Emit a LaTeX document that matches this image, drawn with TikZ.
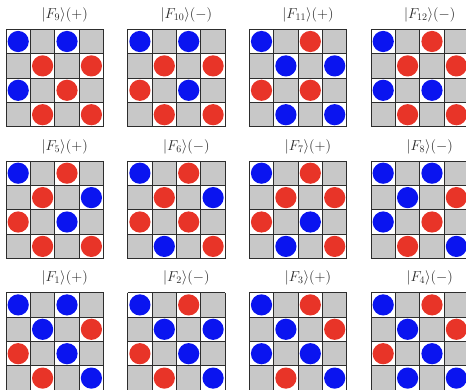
\documentclass[tikz,border=0pt]{standalone}
\usepackage{amsmath}
\definecolor{cellgray}{RGB}{200,200,200}
\definecolor{sitered}{RGB}{232,52,40}
\definecolor{siteblue}{RGB}{10,20,240}
\definecolor{gridline}{RGB}{45,45,45}
\definecolor{titlegray}{RGB}{40,40,40}
\tikzset{
  gridstroke/.style={draw=gridline, line width=0.9pt},
  titletext/.style={font=\fontsize{14}{16}\selectfont, text=titlegray, inner sep=0pt},
}
\def\cs{24.4}
% #1,#2: top-left corner; #3: name; #4: title; #5: colours of the 8 occupied (white) sites, row by row
\newcommand\plaquette[5]{%
  \begin{scope}[shift={(#1,#2)}]
    \foreach \r in {0,...,3} {
      \foreach \c in {0,...,3} {
        \pgfmathtruncatemacro\oddcell{mod(\r+\c,2)}
        \ifnum\oddcell=1
          \fill[cellgray] ({\c*\cs},{\r*\cs}) rectangle ++(\cs,\cs);
        \else
          \fill[white] ({\c*\cs},{\r*\cs}) rectangle ++(\cs,\cs);
        \fi
      }
    }
    \foreach \i in {0,...,4} {
      \draw[gridstroke] ({\i*\cs},0) -- ({\i*\cs},{4*\cs});
      \draw[gridstroke] (0,{\i*\cs}) -- ({4*\cs},{\i*\cs});
    }
    \foreach \col [count=\k from 0] in {#5} {
      \pgfmathtruncatemacro\rr{int(\k/2)}
      \pgfmathtruncatemacro\cc{2*mod(\k,2)+mod(\rr,2)}
      \fill[\col] ({(\cc+0.5)*\cs},{(\rr+0.5)*\cs}) circle[radius=10.6pt];
    }
    \node[titletext] (#3) at (58.7,-14.5) {#4};
  \end{scope}}
\begin{document}
\begin{tikzpicture}[x=1pt,y=-1pt]
  \useasboundingbox (0,0) rectangle (466,390);
  \clip (0,0) rectangle (466,390);
  \fill[white] (0,0) rectangle (466,390);
  % top row
  \plaquette{6}{29.3}{f9}{$|F_{9}\rangle(+)$}{siteblue,siteblue,sitered,sitered,siteblue,sitered,sitered,sitered}
  \plaquette{127.7}{29.3}{f10}{$|F_{10}\rangle(-)$}{siteblue,siteblue,sitered,sitered,sitered,siteblue,sitered,sitered}
  \plaquette{249.3}{29.3}{f11}{$|F_{11}\rangle(+)$}{siteblue,sitered,siteblue,siteblue,sitered,sitered,siteblue,siteblue}
  \plaquette{371}{29.3}{f12}{$|F_{12}\rangle(-)$}{siteblue,sitered,sitered,sitered,siteblue,siteblue,sitered,sitered}
  % middle row
  \plaquette{6}{161}{f5}{$|F_{5}\rangle(+)$}{siteblue,sitered,sitered,siteblue,sitered,siteblue,sitered,sitered}
  \plaquette{127.7}{161}{f6}{$|F_{6}\rangle(-)$}{siteblue,sitered,sitered,siteblue,sitered,sitered,siteblue,sitered}
  \plaquette{249.3}{161}{f7}{$|F_{7}\rangle(+)$}{siteblue,sitered,sitered,sitered,sitered,siteblue,siteblue,sitered}
  \plaquette{371}{161}{f8}{$|F_{8}\rangle(-)$}{siteblue,siteblue,siteblue,sitered,siteblue,sitered,sitered,siteblue}
  % bottom row
  \plaquette{6}{292.7}{f1}{$|F_{1}\rangle(+)$}{siteblue,siteblue,siteblue,sitered,sitered,siteblue,sitered,siteblue}
  \plaquette{127.7}{292.7}{f2}{$|F_{2}\rangle(-)$}{siteblue,sitered,siteblue,siteblue,sitered,siteblue,sitered,siteblue}
  \plaquette{249.3}{292.7}{f3}{$|F_{3}\rangle(+)$}{siteblue,sitered,siteblue,sitered,siteblue,siteblue,sitered,siteblue}
  \plaquette{371}{292.7}{f4}{$|F_{4}\rangle(-)$}{siteblue,sitered,siteblue,sitered,sitered,siteblue,siteblue,siteblue}
\end{tikzpicture}
\end{document}
